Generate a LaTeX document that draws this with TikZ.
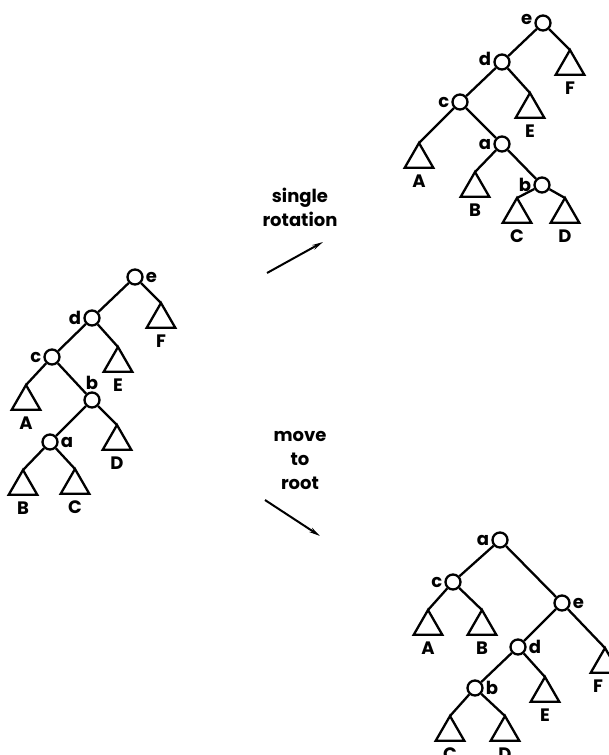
\documentclass[tikz,border=0pt]{standalone}
\usepackage{fontspec}
\setmainfont{Poppins}
\usetikzlibrary{shapes.geometric}
\usetikzlibrary{arrows.meta}
\tikzset{
    knot/.style = {circle, line width=2.3pt, draw=black, minimum size=15pt, inner sep=0pt},
    sub/.style = {regular polygon, regular polygon sides=3, line width=2.3pt, draw=black, minimum size=33pt, inner sep=0pt, outer sep=0pt, anchor=corner 1},
    edgen/.style = {line width=2.3pt},
    edgea/.style = {-{Stealth[length=11pt,width=5pt]},line width=2pt},
    every label/.style = {inner sep=2pt},
    under/.style = {label={[label distance=5pt]below:#1}},
    every picture/.style={font issue=\fontsize{18}{24}\bfseries},
    font issue/.style={execute at begin picture={#1\selectfont}
  }
}

\begin{document}
\begin{tikzpicture}[x=1pt,y=-1pt]
\useasboundingbox (0,0) rectangle (608,755);
% left tree
\node[knot, label={right:e}] at (135,277) (le) {};
\node[knot, label={left:d}] at (92,318) (ld) {};
\node[knot, label={left:c}] at (52,357) (lc) {};
\node[knot, label={above:b}] at (92,400) (lb) {};
\node[knot, label={right:a}] at (50,442) (la) {};
\node[sub, under=F] at (161,303) (lF) {};
\node[sub, under=E] at (118,347) (lE) {};
\node[sub, under=A] at (26,385) (lA) {};
\node[sub, under=D] at (117,425) (lD) {};
\node[sub, under=B] at (23,470) (lB) {};
\node[sub, under=C] at (75,469) (lC) {};
%
\draw[edgen] (le) -- (ld);
\draw[edgen] (le) -- (lF.corner 1);
\draw[edgen] (ld) -- (lc);
\draw[edgen] (ld) -- (lE.corner 1);
\draw[edgen] (lc) -- (lA.corner 1);
\draw[edgen] (lc) -- (lb);
\draw[edgen] (lb) -- (la);
\draw[edgen] (lb) -- (lD.corner 1);
\draw[edgen] (la) -- (lB.corner 1);
\draw[edgen] (la) -- (lC.corner 1);
% single rotation
\node[knot, label={[yshift=4pt]left:e}] at (543,23) (te) {};
\node[knot, label={[yshift=3pt]left:d}] at (502,62) (td) {};
\node[knot, label={left:c}] at (460,102) (tc) {};
\node[knot, label={left:a}] at (502,144) (ta) {};
\node[knot, label={left:b}] at (542,185) (tb) {};
\node[sub, under=F] at (570,50) (tF) {};
\node[sub, under=E] at (530,93) (tE) {};
\node[sub, under=A] at (419,143) (tA) {};
\node[sub, under=B] at (475,172) (tB) {};
\node[sub, under=C] at (517,198) (tC) {};
\node[sub, under=D] at (565,198) (tD) {};
%
\draw[edgen] (te) -- (td);
\draw[edgen] (te) -- (tF.corner 1);
\draw[edgen] (td) -- (tc);
\draw[edgen] (td) -- (tE.corner 1);
\draw[edgen] (tc) -- (tA.corner 1);
\draw[edgen] (tc) -- (ta);
\draw[edgen] (ta) -- (tB.corner 1);
\draw[edgen] (ta) -- (tb);
\draw[edgen] (tb) -- (tC.corner 1);
\draw[edgen] (tb) -- (tD.corner 1);
% move to root
\node[knot, label={left:a}] at (500,540) (ma) {};
\node[knot, label={left:c}] at (453,582) (mc) {};
\node[knot, label={right:e}] at (562,603) (me) {};
\node[knot, label={right:d}] at (518,647) (md) {};
\node[knot, label={right:b}] at (475,688) (mb) {};
\node[sub, under=A] at (428,610) (mA) {};
\node[sub, under=B] at (482,610) (mB) {};
\node[sub, label={[label distance=5pt,xshift=-7pt]below:F}] at (605,648) (mF) {};
\node[sub, under=E] at (545,677) (mE) {};
\node[sub, under=C] at (450,716) (mC) {};
\node[sub, under=D] at (505,716) (mD) {};
%
\draw[edgen] (ma) -- (mc);
\draw[edgen] (ma) -- (me);
\draw[edgen] (mc) -- (mA.corner 1);
\draw[edgen] (mc) -- (mB.corner 1);
\draw[edgen] (me) -- (md);
\draw[edgen] (me) -- (mF.corner 1);
\draw[edgen] (md) -- (mb);
\draw[edgen] (md) -- (mE.corner 1);
\draw[edgen] (mb) -- (mC.corner 1);
\draw[edgen] (mb) -- (mD.corner 1);
% the two ways
\node[align=center] at (300,207) (rot) {single\\rotation};
\coordinate (rs) at (267,273);
\coordinate (rt) at (323,242);
\draw[edgea] (rs) -- (rt);
\node[align=center] at (300,460) (mtr) {move\\to\\root};
\coordinate (ms) at (265,500);
\coordinate (mt) at (320,536);
\draw[edgea] (ms) -- (mt);
\end{tikzpicture}
\end{document}
